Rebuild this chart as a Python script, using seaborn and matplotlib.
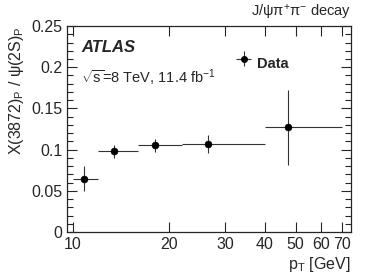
import numpy as np
import pandas as pd
import seaborn as sns
import matplotlib.pyplot as plt
from matplotlib.ticker import FixedLocator, FixedFormatter, MultipleLocator, NullLocator, FuncFormatter

# data
bin_lo = [10, 12, 16, 22, 40]
bin_hi = [12, 16, 22, 40, 70]
pt_mean = [10.85, 13.5, 18.1, 26.6, 47.3]
ratio = [0.065, 0.098, 0.106, 0.107, 0.127]
err_up = [0.015, 0.008, 0.007, 0.011, 0.045]
err_dn = [0.015, 0.008, 0.009, 0.011, 0.046]

df = pd.DataFrame({'pt': pt_mean, 'ratio': ratio})

sns.set_style('ticks')
plt.rcParams['font.family'] = ['Liberation Sans', 'DejaVu Sans']
plt.rcParams['mathtext.fontset'] = 'custom'
plt.rcParams['mathtext.rm'] = 'Liberation Sans'
plt.rcParams['mathtext.it'] = 'Liberation Sans:italic'

fig = plt.figure(figsize=(3.9, 2.8), dpi=100)
ax = fig.add_axes([0.172, 0.171, 0.728, 0.736])

xerr = [np.array(pt_mean) - np.array(bin_lo), np.array(bin_hi) - np.array(pt_mean)]
ax.errorbar(pt_mean, ratio, xerr=xerr, yerr=[err_dn, err_up], fmt='none',
            ecolor='#333333', elinewidth=0.8, capsize=0)
sns.scatterplot(data=df, x='pt', y='ratio', ax=ax, color='black', s=25,
                edgecolor='black', zorder=3, legend=False)

ax.set_xscale('log')
ax.set_xlim(9.6, 74.5)
ax.set_ylim(0, 0.25)

xt = [10, 20, 30, 40, 50, 60, 70]
ax.xaxis.set_major_locator(FixedLocator(xt))
ax.xaxis.set_major_formatter(FixedFormatter([str(v) for v in xt]))
ax.xaxis.set_minor_locator(NullLocator())
ax.yaxis.set_major_locator(MultipleLocator(0.05))
ax.yaxis.set_minor_locator(MultipleLocator(0.01))
ax.yaxis.set_major_formatter(FuncFormatter(lambda v, p: '%g' % round(v, 3)))

ax.tick_params(which='both', direction='in', top=True, right=True, labelsize=11.5)
ax.tick_params(which='major', length=7, width=0.8)
ax.tick_params(which='minor', length=4, width=0.8)
for s in ax.spines.values():
    s.set_linewidth(0.9)

ax.set_xlabel(r'p$_{\mathrm{T}}$ [GeV]', fontsize=11.5, loc='right', labelpad=2)
ax.set_ylabel('X(3872)$_{\\mathrm{P}}$ / ψ(2S)$_{\\mathrm{P}}$', fontsize=11.5,
              loc='top', labelpad=4)

ax.text(1.0, 1.02, 'J/ψπ$^{+}$π$^{-}$ decay', transform=ax.transAxes,
        ha='right', va='bottom', fontsize=10.5)
ax.text(0.05, 0.93, 'ATLAS', transform=ax.transAxes, fontsize=12,
        fontweight='bold', fontstyle='italic', va='top')
ax.text(0.05, 0.80, r'$\sqrt{\mathrm{s}}$=8 TeV, 11.4 fb$^{-1}$', transform=ax.transAxes,
        fontsize=10.5, va='top')

# legend entry drawn as a marker with error bars
h = ax.errorbar([], [], yerr=[], xerr=[], fmt='o', color='black', ms=4,
                ecolor='#333333', elinewidth=0.8)
ax.legend([h], ['Data'], loc='upper left', bbox_to_anchor=(0.55, 0.95),
          frameon=False, prop={'weight': 'bold', 'size': 10.5}, handlelength=1.0,
          handleheight=2.6, handletextpad=0.4)

fig.savefig('out.png', dpi=100)
